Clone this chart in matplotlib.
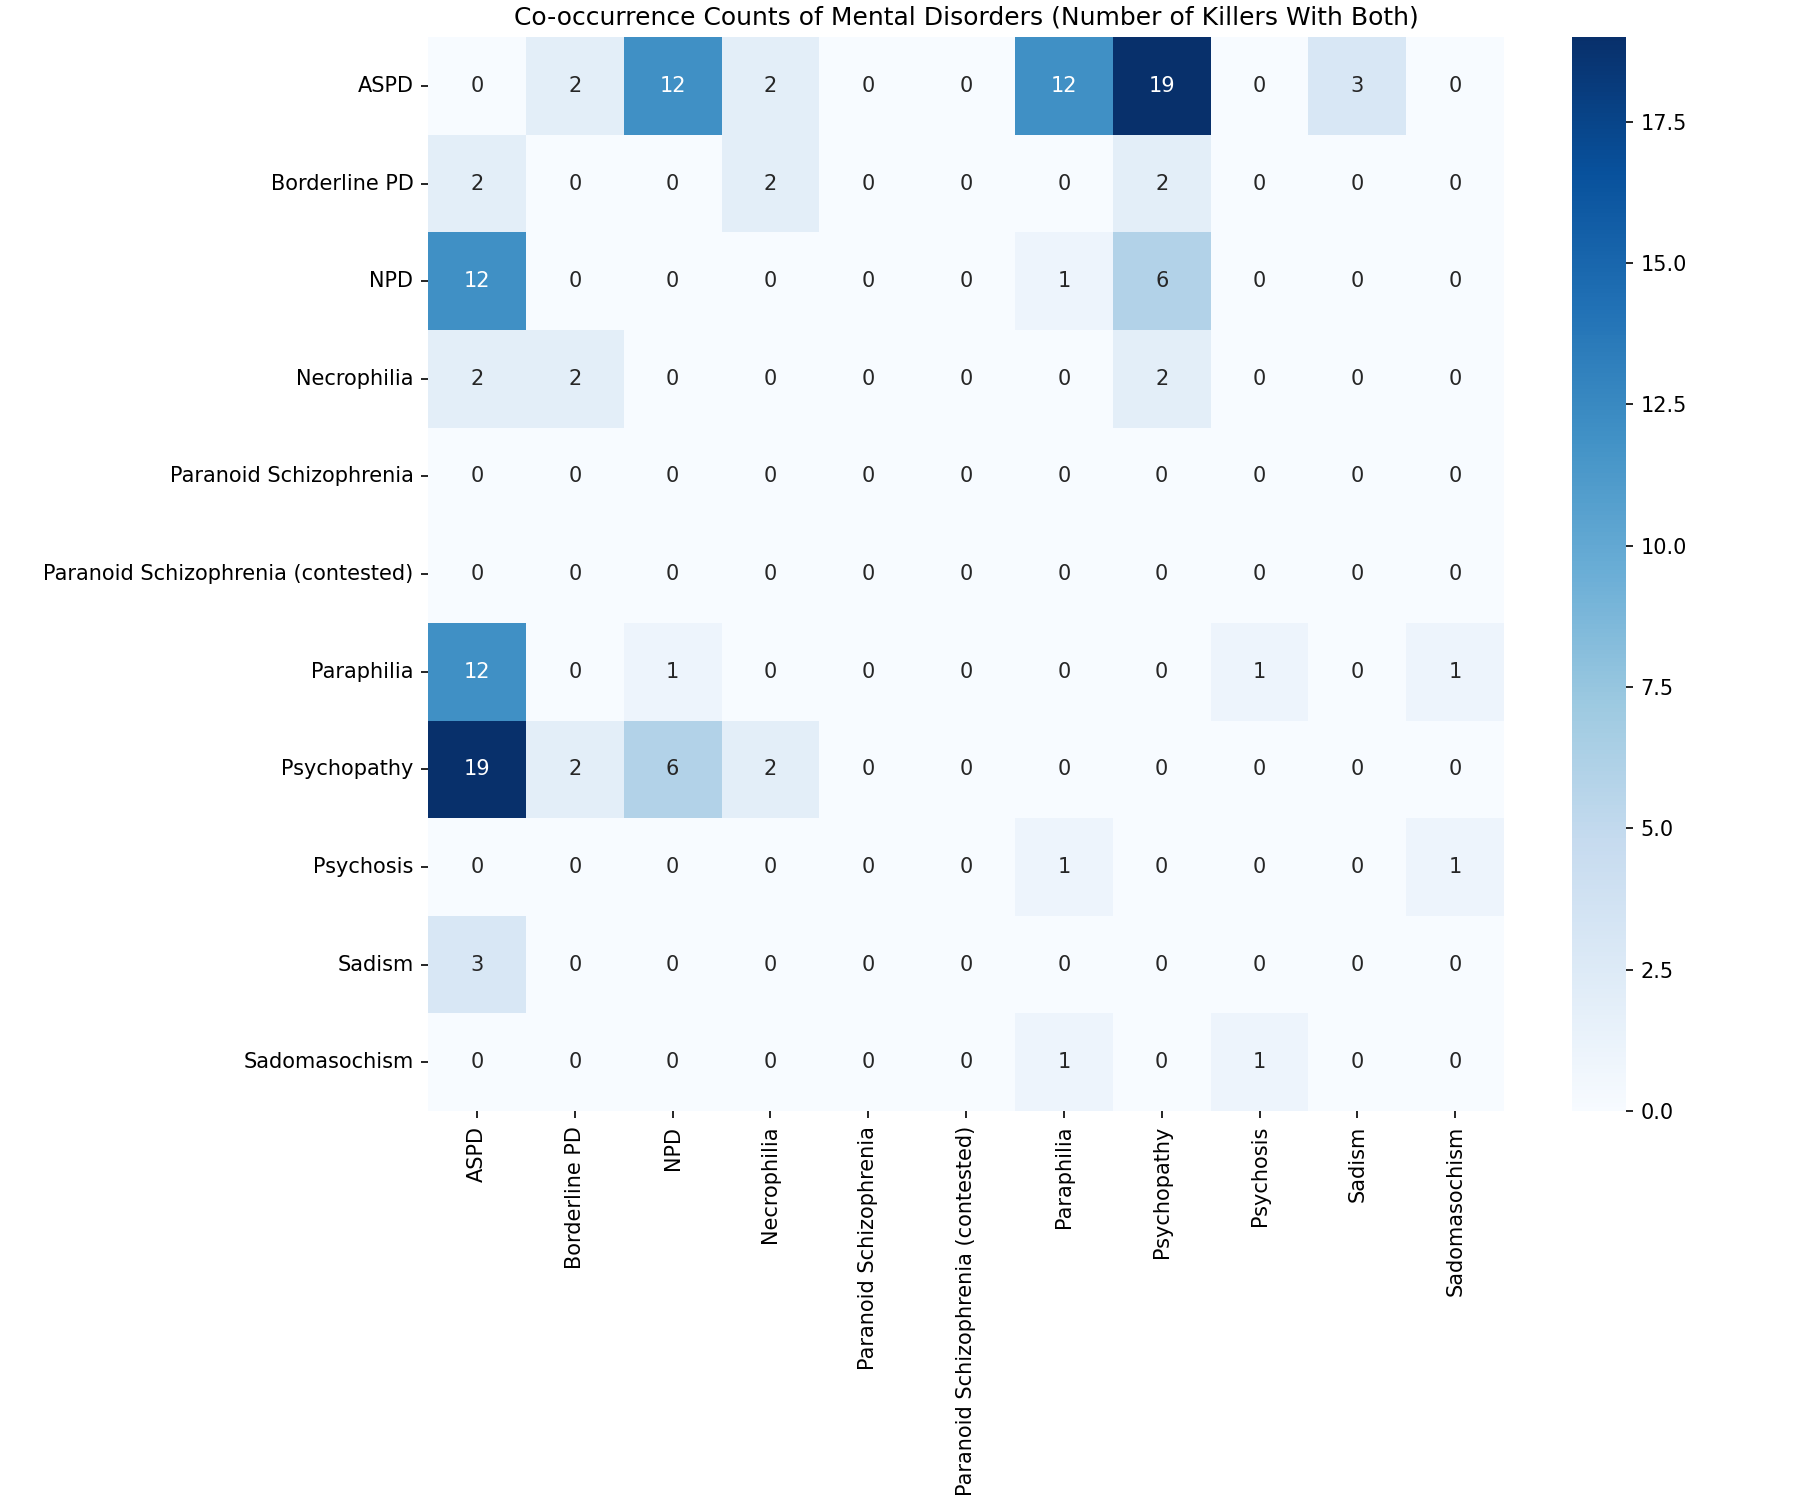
import numpy as np
import pandas as pd
import seaborn as sns
import matplotlib
matplotlib.use('Agg')
import matplotlib.pyplot as plt

# Disorder labels (rows and columns share the same order)
disorders = ['ASPD', 'Borderline PD', 'NPD', 'Necrophilia', 'Paranoid Schizophrenia',
             'Paranoid Schizophrenia (contested)', 'Paraphilia', 'Psychopathy',
             'Psychosis', 'Sadism', 'Sadomasochism']

# Co-occurrence counts, one row per disorder
aspd          = [0, 2, 12, 2, 0, 0, 12, 19, 0, 3, 0]
borderline_pd = [2, 0, 0, 2, 0, 0, 0, 2, 0, 0, 0]
npd           = [12, 0, 0, 0, 0, 0, 1, 6, 0, 0, 0]
necrophilia   = [2, 2, 0, 0, 0, 0, 0, 2, 0, 0, 0]
paranoid      = [0, 0, 0, 0, 0, 0, 0, 0, 0, 0, 0]
paranoid_cont = [0, 0, 0, 0, 0, 0, 0, 0, 0, 0, 0]
paraphilia    = [12, 0, 1, 0, 0, 0, 0, 0, 1, 0, 1]
psychopathy   = [19, 2, 6, 2, 0, 0, 0, 0, 0, 0, 0]
psychosis     = [0, 0, 0, 0, 0, 0, 1, 0, 0, 0, 1]
sadism        = [3, 0, 0, 0, 0, 0, 0, 0, 0, 0, 0]
sadomasochism = [0, 0, 0, 0, 0, 0, 1, 0, 1, 0, 0]

counts = pd.DataFrame([aspd, borderline_pd, npd, necrophilia, paranoid, paranoid_cont,
                       paraphilia, psychopathy, psychosis, sadism, sadomasochism],
                      index=disorders, columns=disorders)

fig = plt.figure(figsize=(12, 10))
ax = fig.add_axes([0.2378, 0.2593, 0.5978, 0.716])
cax = fig.add_axes([0.8733, 0.2593, 0.030, 0.716])
sns.heatmap(counts, annot=True, fmt='d', cmap='Blues', ax=ax, cbar_ax=cax)
ax.set_title('Co-occurrence Counts of Mental Disorders (Number of Killers With Both)')
fig.savefig('out.png', dpi=150)
